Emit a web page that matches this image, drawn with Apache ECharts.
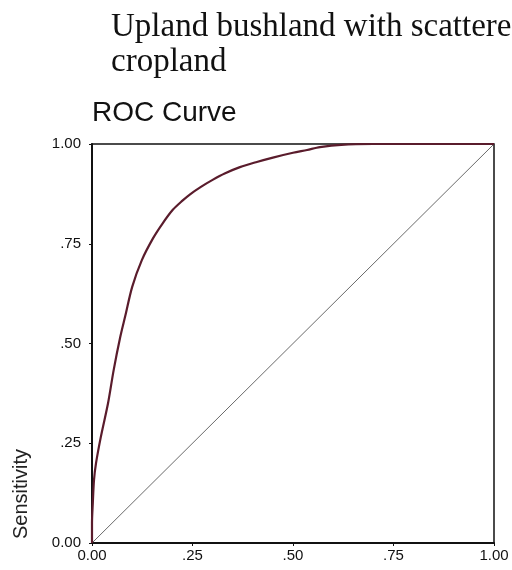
<!DOCTYPE html>
<html>
<head>
<meta charset="utf-8">
<script src="https://cdn.jsdelivr.net/npm/echarts@6/dist/echarts.min.js"></script>
<style>
html,body{margin:0;padding:0;background:#fff;}
#chart{width:512px;height:570px;}
</style>
</head>
<body>
<div id="chart"></div>
<script>
// ROC curve: 1 - specificity (x) vs sensitivity (y)
const fpr = [0, 0, 0.002, 0.005, 0.01, 0.022, 0.04, 0.054, 0.07, 0.083, 0.10, 0.124, 0.152, 0.175, 0.201, 0.225, 0.244, 0.27, 0.30, 0.33, 0.368, 0.41, 0.45, 0.50, 0.535, 0.567, 0.62, 0.70, 1];
const tpr = [0, 0.05, 0.10, 0.158, 0.20, 0.266, 0.351, 0.434, 0.515, 0.570, 0.642, 0.709, 0.764, 0.80, 0.835, 0.858, 0.874, 0.892, 0.910, 0.926, 0.942, 0.955, 0.966, 0.978, 0.985, 0.992, 0.998, 1, 1];
const refX = [0, 1];
const refY = [0, 1];
const tickValues = [0, 0.25, 0.5, 0.75, 1];
const tickLabels = ['0.00', '.25', '.50', '.75', '1.00'];
const titleText = 'Upland bushland with scattered\ncropland';
const subTitle = 'ROC Curve';
const yName = 'Sensitivity';

const labelFor = v => {
  const i = tickValues.findIndex(t => Math.abs(t - v) < 1e-9);
  return i >= 0 ? tickLabels[i] : '';
};

const chart = echarts.init(document.getElementById('chart'), null, {renderer: 'canvas'});
chart.setOption({
  backgroundColor: '#fff',
  animation: false,
  title: [
    {text: titleText, left: 106, top: 5,
     textStyle: {fontFamily: 'Liberation Serif', fontSize: 33, fontWeight: 'normal', color: '#111', lineHeight: 35}},
    {text: subTitle, left: 87, top: 94,
     textStyle: {fontFamily: 'Liberation Sans', fontSize: 28, fontWeight: 'normal', color: '#111'}}
  ],
  graphic: [
    {type: 'text', left: 11, top: 449, rotation: Math.PI / 2,
     style: {text: yName, font: '20px "Liberation Sans"', fill: '#222'}}
  ],
  grid: {left: 92, top: 144, width: 402, height: 399, show: true, borderColor: '#111', borderWidth: 1.5, backgroundColor: 'transparent'},
  xAxis: {
    type: 'value', min: 0, max: 1, interval: 0.25,
    axisLine: {show: true, onZero: false, lineStyle: {color: '#111', width: 2}},
    axisTick: {show: true, length: 3, lineStyle: {color: '#111'}},
    splitLine: {show: false},
    axisLabel: {formatter: labelFor, fontFamily: 'Liberation Sans', fontSize: 15, color: '#111', margin: 5}
  },
  yAxis: {
    type: 'value', min: 0, max: 1, interval: 0.25,
    axisLine: {show: true, onZero: false, lineStyle: {color: '#111', width: 2}},
    axisTick: {show: true, length: 3, lineStyle: {color: '#111'}},
    splitLine: {show: false},
    axisLabel: {formatter: labelFor, fontFamily: 'Liberation Sans', fontSize: 15, color: '#111', margin: 11}
  },
  series: [
    {type: 'line', data: refX.map((x, i) => [x, refY[i]]), symbol: 'none',
     lineStyle: {color: '#6a6a6a', width: 1}},
    {type: 'line', data: fpr.map((x, i) => [x, tpr[i]]), symbol: 'none', smooth: 0.3,
     lineStyle: {color: '#5a1c2c', width: 2.2}}
  ]
});
</script>
</body>
</html>
